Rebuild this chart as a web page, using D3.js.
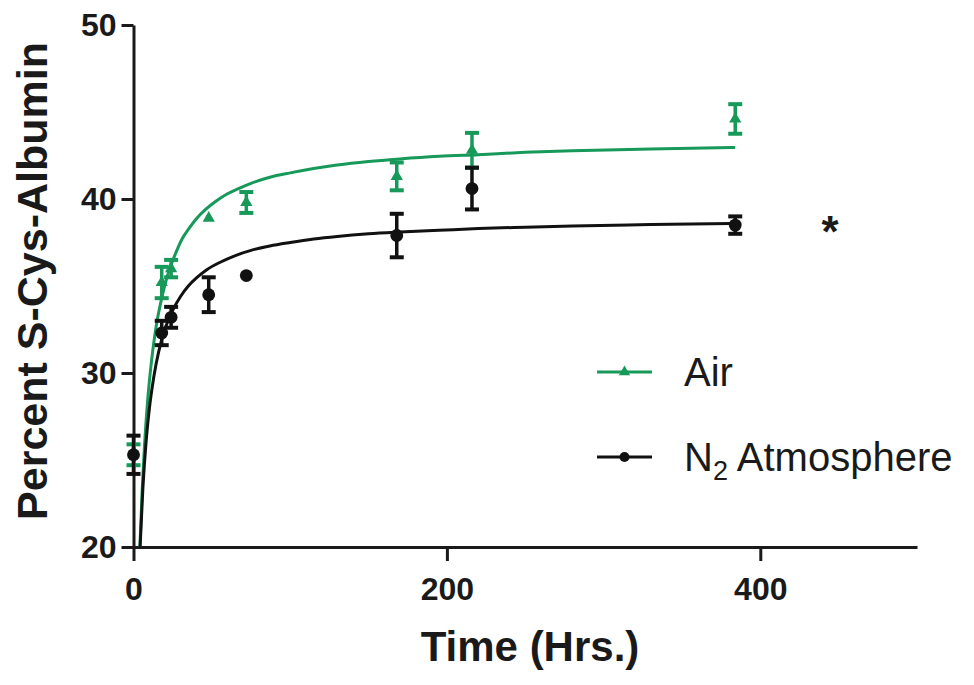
<!DOCTYPE html>
<html><head><meta charset="utf-8">
<script src="https://cdn.jsdelivr.net/npm/d3@7/dist/d3.min.js"></script>
<style>
body{margin:0;background:#fff}
svg{display:block}
text{font-family:"Liberation Sans",Arial,sans-serif}
</style>
</head><body>
<svg id="chart" width="974" height="685"></svg>
<script>
// ---- data ----
const times   = [0, 18, 24, 48, 72, 168, 216, 384];
const airMean = [25.3, 35.2, 36.0, 38.9, 39.8, 41.3, 42.8, 44.6];
const airErr  = [0.6, 0.9, 0.5, 0, 0.6, 0.8, 1.0, 0.85];
const n2Mean  = [25.3, 32.3, 33.2, 34.5, 35.6, 37.9, 40.6, 38.5];
const n2Err   = [1.1, 0.7, 0.6, 1.0, 0, 1.25, 1.2, 0.5];

// fitted curves
const airFitT = [4.0, 5.5, 7, 9, 11.5, 14.5, 18, 22, 27, 31, 35, 40, 46, 53, 60, 67, 75, 87, 100, 115, 130, 150, 170, 195, 220, 250, 280, 330, 384];
const airFitV = [19.8, 23.2, 25.8, 28.4, 30.7, 32.7, 34.3, 35.7, 36.9, 37.7, 38.25, 38.85, 39.4, 39.9, 40.3, 40.6, 40.9, 41.25, 41.5, 41.75, 41.95, 42.15, 42.3, 42.45, 42.55, 42.68, 42.77, 42.87, 42.96];
const n2FitT  = [4.2, 6, 8, 10, 13, 16, 20, 25, 30, 35, 40, 47, 55, 65, 75, 87, 100, 115, 130, 150, 170, 195, 220, 250, 280, 330, 384];
const n2FitV  = [20, 23.4, 26, 27.85, 29.8, 31.2, 32.5, 33.6, 34.4, 35.0, 35.45, 35.95, 36.35, 36.75, 37.05, 37.3, 37.5, 37.7, 37.85, 38.0, 38.1, 38.2, 38.3, 38.38, 38.45, 38.53, 38.6];

const xTicks = [0, 200, 400];
const yTicks = [20, 30, 40, 50];
const seriesNames = ["Air", "Atmosphere"];
const xTitle = "Time (Hrs.)";
const yTitle = "Percent S-Cys-Albumin";

const GREEN = "#17995a", BLACK = "#111";

const svg = d3.select("#chart");
const x = d3.scaleLinear().domain([0, 500]).range([133.5, 917]);
const y = d3.scaleLinear().domain([20, 50]).range([547, 25]);

// axes
const gx = svg.append("g").attr("transform", `translate(0,${y(20)})`)
  .call(d3.axisBottom(x).tickValues(xTicks).tickSize(14).tickSizeOuter(0).tickPadding(16));
const gy = svg.append("g").attr("transform", `translate(${x(0)},0)`)
  .call(d3.axisLeft(y).tickValues(yTicks).tickSize(12).tickSizeOuter(0).tickPadding(5));
[gx, gy].forEach(g => {
  g.select(".domain").attr("stroke", "#1a1a1a").attr("stroke-width", 3);
  g.selectAll(".tick line").attr("stroke", "#1a1a1a").attr("stroke-width", 3);
  g.selectAll(".tick text").attr("fill", "#1a1a1a").style("font-size", "32px").style("font-weight", "bold");
});

// titles
svg.append("text").attr("x", 530).attr("y", 661).attr("text-anchor", "middle")
  .style("font-size", "42px").style("font-weight", "bold").attr("fill", "#1a1a1a").text(xTitle);
svg.append("text").attr("transform", `translate(47,281) rotate(-90)`).attr("text-anchor", "middle")
  .style("font-size", "43px").style("font-weight", "bold").attr("fill", "#1a1a1a").text(yTitle);

// clip for curves
svg.append("clipPath").attr("id", "plotclip").append("rect")
  .attr("x", x(0)).attr("y", y(50)).attr("width", x(500) - x(0)).attr("height", y(20) - y(50));

const line = d3.line().x(d => x(d[0])).y(d => y(d[1])).curve(d3.curveMonotoneX);
const curves = svg.append("g").attr("clip-path", "url(#plotclip)");
curves.append("path").datum(airFitT.map((t, i) => [t, airFitV[i]]))
  .attr("d", line).attr("fill", "none").attr("stroke", GREEN).attr("stroke-width", 3);
curves.append("path").datum(n2FitT.map((t, i) => [t, n2FitV[i]]))
  .attr("d", line).attr("fill", "none").attr("stroke", BLACK).attr("stroke-width", 3);

// points with error bars
function drawSeries(mean, err, color, shape) {
  const g = svg.append("g");
  const data = times.map((t, i) => ({t, m: mean[i], e: err[i]}));
  data.forEach(d => {
    if (d.e > 0) {
      const cx = x(d.t), y1 = y(d.m + d.e), y2 = y(d.m - d.e);
      g.append("line").attr("x1", cx).attr("x2", cx).attr("y1", y1).attr("y2", y2)
        .attr("stroke", color).attr("stroke-width", 3.5);
      [y1, y2].forEach(yy => g.append("line").attr("x1", cx - 7).attr("x2", cx + 7)
        .attr("y1", yy).attr("y2", yy).attr("stroke", color).attr("stroke-width", 4));
    }
  });
  const sym = d3.symbol().type(shape).size(shape === d3.symbolTriangle ? 65 : 130);
  g.selectAll("path.pt").data(data).join("path").attr("class", "pt")
    .attr("transform", d => `translate(${x(d.t)},${y(d.m)})`)
    .attr("d", sym).attr("fill", color);
}
drawSeries(airMean, airErr, GREEN, d3.symbolTriangle);
drawSeries(n2Mean, n2Err, BLACK, d3.symbolCircle);

// significance asterisk
svg.append("text").attr("x", 830).attr("y", 247).attr("text-anchor", "middle")
  .style("font-size", "44px").style("font-weight", "bold").attr("fill", "#1a1a1a").text("*");

// legend
const leg = [
  {name: seriesNames[0], color: GREEN, shape: d3.symbolTriangle, ly: 372},
  {name: seriesNames[1], color: BLACK, shape: d3.symbolCircle, ly: 457}
];
leg.forEach((d, i) => {
  svg.append("line").attr("x1", 597).attr("x2", 652).attr("y1", d.ly).attr("y2", d.ly)
    .attr("stroke", d.color).attr("stroke-width", 3);
  svg.append("path").attr("transform", `translate(624.5,${d.ly})`)
    .attr("d", d3.symbol().type(d.shape).size(d.shape === d3.symbolTriangle ? 55 : 80)).attr("fill", d.color);
  const t = svg.append("text").attr("x", 684).attr("y", d.ly + 14)
    .style("font-size", "40px").attr("fill", "#1a1a1a");
  if (i === 0) {
    t.text(d.name);
  } else {
    t.append("tspan").text("N");
    t.append("tspan").attr("dy", 9).style("font-size", "27px").text("2");
    t.append("tspan").attr("dy", -9).text(" " + d.name);
  }
});
</script>
</body></html>
